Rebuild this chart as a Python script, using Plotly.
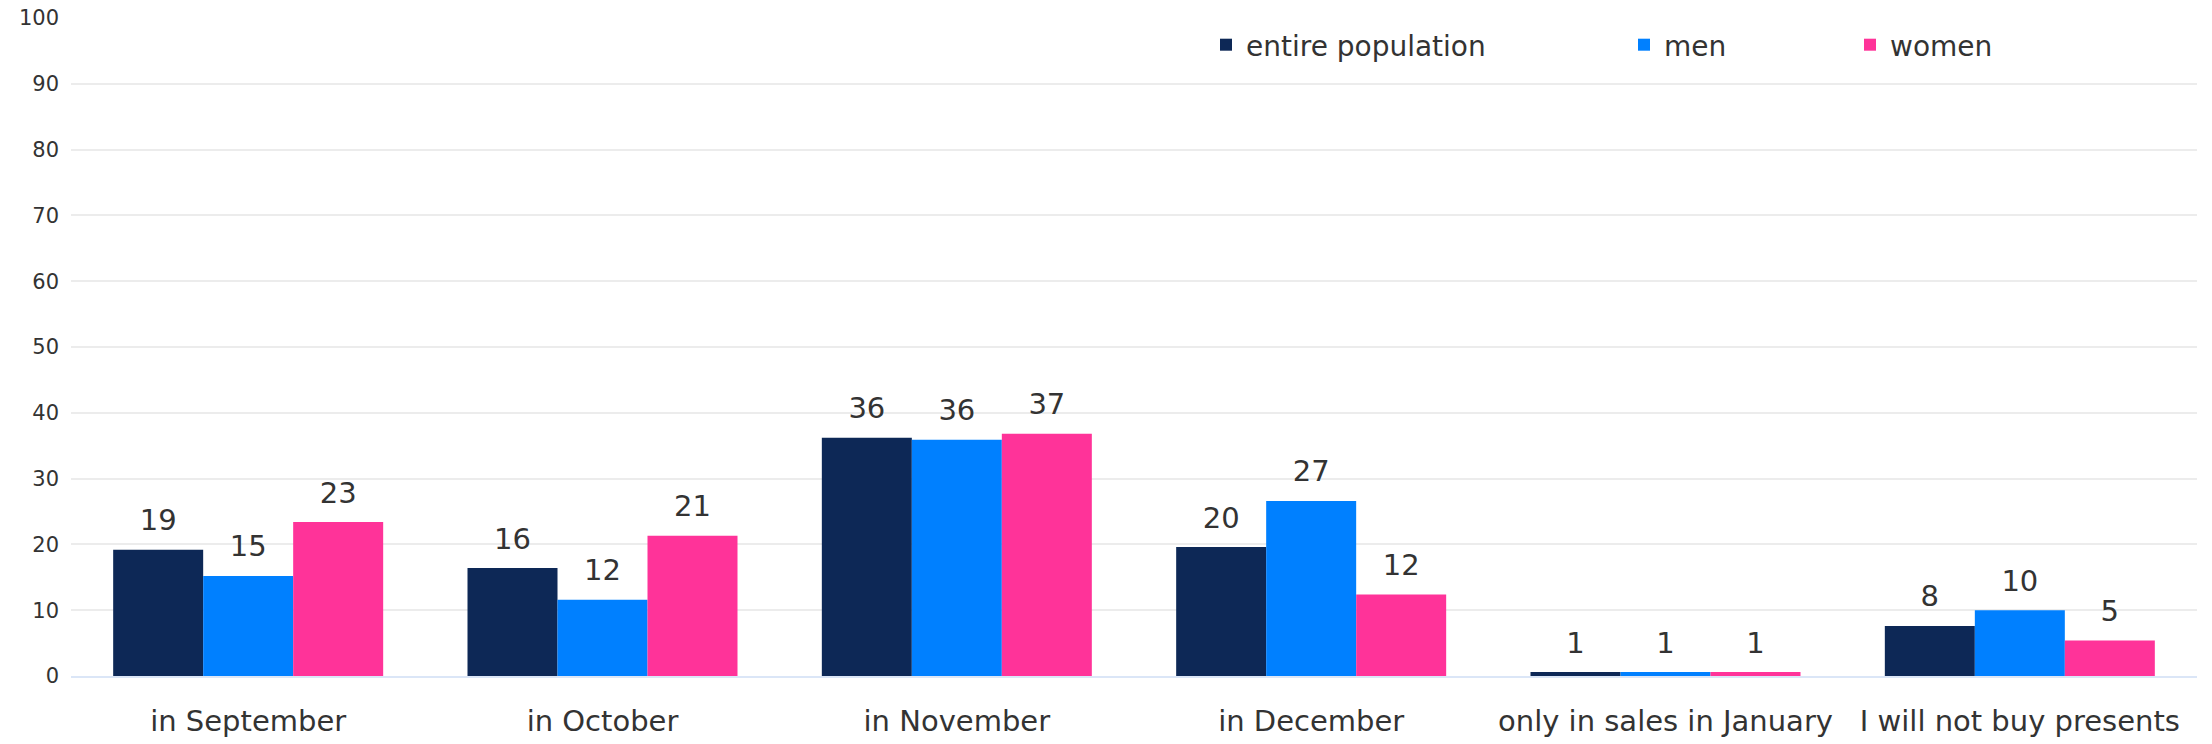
import plotly.graph_objects as go

categories = ["in September", "in October", "in November", "in December",
              "only in sales in January", "I will not buy presents"]
entire_population = [19.2, 16.4, 36.2, 19.6, 0.6, 7.6]
men = [15.2, 11.6, 35.9, 26.6, 0.6, 10.0]
women = [23.4, 21.3, 36.8, 12.4, 0.6, 5.4]
y_ticks = list(range(0, 101, 10))

series = [
    ("entire population", entire_population, "#0d2856", "legend"),
    ("men", men, "#0080ff", "legend2"),
    ("women", women, "#ff3399", "legend3"),
]

FONT = "DejaVu Sans"
GAP = 0.238
fig = go.Figure()
for name, vals, color, leg in series:
    fig.add_trace(go.Bar(
        name=name, x=categories, y=vals,
        marker=dict(color=color, line=dict(width=0)),
        legend=leg, hoverinfo="x+y+name",
    ))
# value labels, aligned with the grouped bars
for name, vals, color, leg in series:
    fig.add_trace(go.Scatter(
        x=categories, y=vals, mode="markers+text",
        texttemplate="%{y:.0f}", textposition="top center",
        textfont=dict(family=FONT, size=29, color="#333333"),
        marker=dict(size=18, color="rgba(0,0,0,0)"),
        showlegend=False, hoverinfo="skip", cliponaxis=False,
    ))

W, H = 2212, 744
ml, mr, mt, mb = 71, 15, 18, 68
pw = W - ml - mr

def leg(xpix):
    return dict(x=(xpix - ml) / pw, xanchor="left",
                y=1 - (45 - mt) / (H - mt - mb),
                yanchor="middle", orientation="h", bgcolor="rgba(0,0,0,0)",
                font=dict(family=FONT, size=28, color="#333333"))

fig.update_layout(
    width=W, height=H,
    margin=dict(l=ml, r=mr, t=mt, b=mb),
    plot_bgcolor="white", paper_bgcolor="white",
    barmode="group", bargap=GAP, bargroupgap=0,
    scattermode="group", scattergap=GAP,
    showlegend=True,
    legend=leg(1206), legend2=leg(1624), legend3=leg(1850),
    xaxis=dict(
        showline=True, linecolor="#dbe6f7", linewidth=2, automargin=False,
        showgrid=False, ticks="outside", ticklen=18, tickcolor="rgba(0,0,0,0)",
        ticklabeloverflow="allow",
        tickfont=dict(family=FONT, size=29, color="#333333"),
    ),
    yaxis=dict(
        range=[0, 100], tickvals=y_ticks, showgrid=True, gridcolor="#ececec", gridwidth=2,
        zeroline=False, ticklabelstandoff=11, automargin=False, ticklabeloverflow="allow",
        tickfont=dict(family=FONT, size=21, color="#333333"),
    ),
)
fig.write_html("out.html", config={"displayModeBar": False},
               post_script="document.body.style.margin='0';")
